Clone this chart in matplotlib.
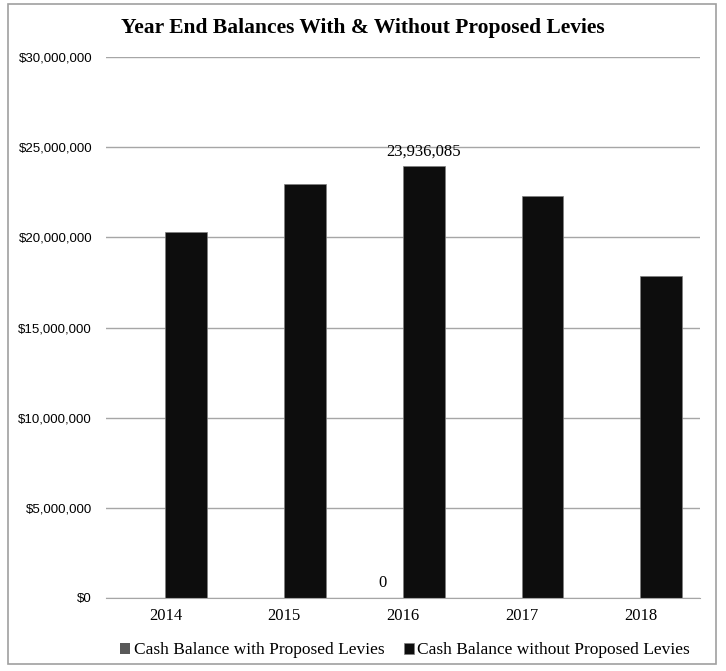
import numpy as np
import matplotlib.pyplot as plt
from matplotlib.patches import Rectangle

# 数据
years = ["2014", "2015", "2016", "2017", "2018"]
with_levies = [0, 0, 0, 0, 0]
without_levies = [20280000, 22940000, 23936085, 22280000, 17880000]
y_ticks = [0, 5000000, 10000000, 15000000, 20000000, 25000000, 30000000]

serif = ["Liberation Serif", "DejaVu Serif"]
sans = ["Liberation Sans", "DejaVu Sans"]

fig = plt.figure(figsize=(7.26, 6.71), dpi=100)
ax = fig.add_axes([0.146, 0.1088, 0.818, 0.8062])

x = np.arange(len(years))
w = 0.35
ax.bar(x - w / 2, with_levies, w, color="#595959", label="Cash Balance with Proposed Levies")
ax.bar(x + w / 2, without_levies, w, color="#0d0d0d", edgecolor="#7f7f7f", linewidth=0.5,
       label="Cash Balance without Proposed Levies")

# 数据标签 (仅 2016)
ax.annotate(f"{without_levies[2]:,}", (x[2] + w / 2, without_levies[2]), xytext=(0, 5),
            textcoords="offset points", ha="center", va="bottom", fontsize=12, family=serif)
ax.annotate(f"{with_levies[2]:,}", (x[2] - w / 2, with_levies[2]), xytext=(0, 5),
            textcoords="offset points", ha="center", va="bottom", fontsize=12, family=serif)

ax.set_xlim(-0.5, len(years) - 0.5)
ax.set_ylim(0, 30000000)
ax.set_yticks(y_ticks)
ax.set_yticklabels([f"${v:,}" for v in y_ticks], family=sans, fontsize=9.5)
ax.set_xticks(x)
ax.set_xticklabels(years, family=serif, fontsize=12)
ax.tick_params(axis="y", length=0, pad=10)
ax.tick_params(axis="x", length=0, pad=7)
ax.grid(axis="y", color="#a6a6a6", linewidth=1)
ax.set_axisbelow(True)
for s in ["top", "right", "left"]:
    ax.spines[s].set_visible(False)
ax.spines["bottom"].set_color("#a6a6a6")

fig.text(0.5, 0.958, "Year End Balances With & Without Proposed Levies", ha="center", va="center",
         fontsize=15.5, fontweight="bold", family=serif)

fig.legend(loc="center", bbox_to_anchor=(0.558, 0.031), ncol=2, frameon=False,
           prop={"family": serif, "size": 12.5}, handlelength=0.6, handleheight=0.6,
           handletextpad=0.2, columnspacing=1.1)

# 外边框
fig.patches.append(Rectangle((8 / 726, 1 - 664 / 671), 708 / 726, 660 / 671, transform=fig.transFigure,
                             fill=False, edgecolor="#a0a0a0", linewidth=1.2))

fig.savefig("out.png", dpi=100)
